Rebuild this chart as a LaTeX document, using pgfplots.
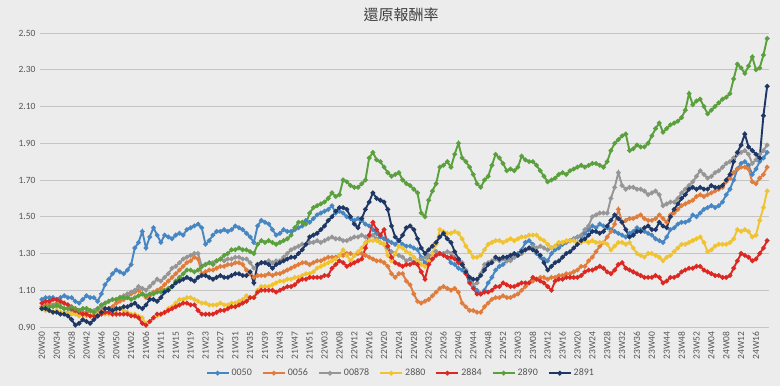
\documentclass[border=0pt]{standalone}
\usepackage{pgfplots}
\pgfplotsset{compat=1.18}
\usepackage{pgfplotstable}
\usepackage{fontspec}
\setmainfont{Carlito}
\newfontfamily\cjk{Noto Sans CJK TC}
\definecolor{bgcol}{RGB}{236,236,236}
\definecolor{gridc}{RGB}{196,196,196}
\definecolor{labc}{RGB}{85,85,85}
\definecolor{cA}{RGB}{70,135,195}
\definecolor{cB}{RGB}{225,125,60}
\definecolor{cC}{RGB}{150,150,150}
\definecolor{cD}{RGB}{240,195,50}
\definecolor{cE}{RGB}{220,40,35}
\definecolor{cF}{RGB}{90,160,60}
\definecolor{cG}{RGB}{30,55,100}

% 0050
\pgfplotstableread[row sep=\\]{
v\\
1.05\\1.06\\1.06\\1.06\\1.05\\1.06\\1.07\\1.06\\1.06\\1.04\\
1.03\\1.05\\1.07\\1.06\\1.06\\1.04\\1.08\\1.13\\1.16\\1.19\\
1.21\\1.20\\1.19\\1.21\\1.24\\1.33\\1.36\\1.42\\1.33\\1.39\\
1.44\\1.40\\1.36\\1.40\\1.39\\1.38\\1.40\\1.41\\1.40\\1.43\\
1.44\\1.45\\1.46\\1.44\\1.35\\1.37\\1.40\\1.42\\1.42\\1.43\\
1.42\\1.43\\1.45\\1.44\\1.43\\1.41\\1.39\\1.36\\1.45\\1.48\\
1.47\\1.46\\1.43\\1.40\\1.41\\1.43\\1.42\\1.42\\1.43\\1.44\\
1.45\\1.48\\1.47\\1.49\\1.51\\1.52\\1.53\\1.54\\1.56\\1.52\\
1.53\\1.52\\1.50\\1.49\\1.48\\1.49\\1.48\\1.46\\1.45\\1.43\\
1.41\\1.39\\1.38\\1.37\\1.36\\1.35\\1.37\\1.35\\1.34\\1.34\\
1.33\\1.32\\1.28\\1.25\\1.27\\1.30\\1.31\\1.30\\1.30\\1.28\\
1.25\\1.24\\1.22\\1.21\\1.19\\1.15\\1.12\\1.10\\1.08\\1.10\\
1.14\\1.17\\1.21\\1.23\\1.24\\1.26\\1.27\\1.28\\1.30\\1.32\\
1.36\\1.37\\1.35\\1.30\\1.28\\1.27\\1.26\\1.30\\1.32\\1.33\\
1.35\\1.36\\1.37\\1.38\\1.39\\1.39\\1.41\\1.43\\1.45\\1.44\\
1.46\\1.45\\1.44\\1.43\\1.42\\1.41\\1.40\\1.39\\1.41\\1.42\\
1.44\\1.43\\1.42\\1.41\\1.40\\1.38\\1.37\\1.36\\1.39\\1.43\\
1.44\\1.46\\1.47\\1.47\\1.48\\1.51\\1.50\\1.52\\1.54\\1.55\\
1.56\\1.55\\1.56\\1.58\\1.62\\1.65\\1.70\\1.76\\1.79\\1.80\\
1.78\\1.73\\1.76\\1.80\\1.82\\1.85\\
}\tA
% 0056
\pgfplotstableread[row sep=\\]{
v\\
1.01\\1.02\\1.03\\1.02\\1.03\\1.03\\1.03\\1.02\\1.01\\1.00\\
0.99\\0.98\\0.98\\0.99\\0.98\\0.98\\0.99\\1.00\\1.00\\1.01\\
1.03\\1.04\\1.05\\1.06\\1.08\\1.09\\1.10\\1.08\\1.06\\1.07\\
1.09\\1.10\\1.11\\1.13\\1.15\\1.17\\1.19\\1.21\\1.23\\1.25\\
1.26\\1.28\\1.27\\1.19\\1.20\\1.21\\1.21\\1.22\\1.23\\1.23\\
1.24\\1.24\\1.25\\1.25\\1.24\\1.21\\1.19\\1.17\\1.18\\1.18\\
1.18\\1.19\\1.18\\1.19\\1.19\\1.20\\1.21\\1.22\\1.23\\1.24\\
1.25\\1.25\\1.24\\1.25\\1.26\\1.26\\1.27\\1.28\\1.28\\1.28\\
1.29\\1.29\\1.30\\1.30\\1.29\\1.30\\1.30\\1.29\\1.28\\1.27\\
1.26\\1.26\\1.25\\1.23\\1.19\\1.17\\1.19\\1.19\\1.15\\1.13\\
1.08\\1.04\\1.03\\1.04\\1.05\\1.07\\1.09\\1.11\\1.12\\1.11\\
1.10\\1.11\\1.09\\1.03\\1.01\\0.99\\0.99\\0.98\\0.98\\1.01\\
1.03\\1.05\\1.06\\1.06\\1.07\\1.06\\1.06\\1.07\\1.08\\1.10\\
1.12\\1.14\\1.15\\1.16\\1.17\\1.17\\1.16\\1.17\\1.17\\1.18\\
1.18\\1.19\\1.19\\1.20\\1.21\\1.23\\1.23\\1.26\\1.28\\1.31\\
1.34\\1.36\\1.39\\1.42\\1.46\\1.54\\1.47\\1.48\\1.49\\1.49\\
1.50\\1.51\\1.49\\1.48\\1.48\\1.49\\1.51\\1.49\\1.47\\1.51\\
1.52\\1.54\\1.56\\1.57\\1.58\\1.59\\1.61\\1.62\\1.61\\1.62\\
1.63\\1.64\\1.65\\1.66\\1.69\\1.71\\1.74\\1.76\\1.77\\1.77\\
1.76\\1.69\\1.68\\1.71\\1.73\\1.77\\
}\tB
% 00878
\pgfplotstableread[row sep=\\]{
v\\
1.00\\1.01\\1.01\\1.02\\1.01\\1.01\\1.00\\1.00\\0.99\\0.98\\
0.99\\1.00\\1.00\\0.99\\0.99\\1.00\\1.01\\1.03\\1.04\\1.05\\
1.05\\1.06\\1.07\\1.08\\1.09\\1.10\\1.12\\1.11\\1.10\\1.12\\
1.14\\1.16\\1.15\\1.17\\1.19\\1.22\\1.23\\1.25\\1.27\\1.28\\
1.29\\1.30\\1.30\\1.23\\1.24\\1.25\\1.25\\1.26\\1.27\\1.26\\
1.27\\1.27\\1.28\\1.28\\1.27\\1.27\\1.25\\1.22\\1.24\\1.25\\
1.25\\1.26\\1.25\\1.26\\1.26\\1.28\\1.30\\1.32\\1.33\\1.34\\
1.35\\1.35\\1.36\\1.36\\1.37\\1.36\\1.37\\1.38\\1.39\\1.38\\
1.38\\1.37\\1.37\\1.38\\1.39\\1.39\\1.40\\1.39\\1.39\\1.40\\
1.38\\1.36\\1.35\\1.33\\1.31\\1.30\\1.29\\1.28\\1.26\\1.27\\
1.25\\1.26\\1.27\\1.28\\1.29\\1.30\\1.31\\1.30\\1.30\\1.31\\
1.30\\1.28\\1.27\\1.25\\1.21\\1.17\\1.13\\1.14\\1.19\\1.24\\
1.25\\1.26\\1.27\\1.26\\1.27\\1.26\\1.26\\1.28\\1.29\\1.30\\
1.32\\1.33\\1.34\\1.33\\1.34\\1.33\\1.32\\1.33\\1.34\\1.35\\
1.36\\1.36\\1.37\\1.38\\1.39\\1.40\\1.43\\1.45\\1.50\\1.51\\
1.52\\1.52\\1.52\\1.60\\1.66\\1.74\\1.67\\1.65\\1.66\\1.66\\
1.65\\1.65\\1.64\\1.62\\1.63\\1.64\\1.62\\1.56\\1.57\\1.58\\
1.58\\1.60\\1.63\\1.65\\1.67\\1.69\\1.72\\1.75\\1.73\\1.71\\
1.72\\1.74\\1.75\\1.77\\1.79\\1.80\\1.82\\1.84\\1.85\\1.86\\
1.84\\1.79\\1.81\\1.84\\1.86\\1.89\\
}\tC
% 2880
\pgfplotstableread[row sep=\\]{
v\\
1.00\\0.99\\0.99\\0.98\\0.99\\0.98\\0.98\\0.98\\0.97\\0.97\\
0.96\\0.97\\0.96\\0.96\\0.97\\0.97\\0.98\\0.97\\0.97\\0.98\\
0.99\\1.00\\0.99\\0.98\\0.97\\0.97\\0.96\\0.95\\0.92\\0.93\\
0.95\\0.96\\0.97\\0.98\\1.00\\1.01\\1.03\\1.05\\1.05\\1.06\\
1.06\\1.05\\1.04\\1.03\\1.03\\1.02\\1.02\\1.02\\1.03\\1.02\\
1.02\\1.03\\1.03\\1.04\\1.05\\1.07\\1.06\\1.06\\1.10\\1.12\\
1.12\\1.12\\1.13\\1.14\\1.15\\1.15\\1.16\\1.16\\1.17\\1.17\\
1.18\\1.19\\1.19\\1.20\\1.22\\1.23\\1.24\\1.25\\1.26\\1.27\\
1.29\\1.32\\1.29\\1.26\\1.29\\1.31\\1.33\\1.36\\1.37\\1.37\\
1.37\\1.36\\1.35\\1.29\\1.26\\1.30\\1.34\\1.33\\1.31\\1.30\\
1.28\\1.26\\1.24\\1.23\\1.26\\1.30\\1.35\\1.43\\1.42\\1.41\\
1.41\\1.42\\1.41\\1.38\\1.34\\1.31\\1.28\\1.28\\1.29\\1.32\\
1.35\\1.36\\1.37\\1.37\\1.36\\1.37\\1.38\\1.37\\1.38\\1.39\\
1.39\\1.40\\1.40\\1.40\\1.38\\1.37\\1.35\\1.33\\1.34\\1.36\\
1.36\\1.37\\1.37\\1.37\\1.36\\1.36\\1.37\\1.36\\1.37\\1.36\\
1.36\\1.36\\1.35\\1.32\\1.34\\1.36\\1.36\\1.35\\1.36\\1.33\\
1.30\\1.29\\1.28\\1.30\\1.30\\1.29\\1.28\\1.26\\1.28\\1.29\\
1.31\\1.33\\1.35\\1.35\\1.36\\1.37\\1.38\\1.39\\1.36\\1.31\\
1.32\\1.34\\1.35\\1.35\\1.35\\1.36\\1.38\\1.43\\1.42\\1.43\\
1.42\\1.39\\1.40\\1.48\\1.55\\1.64\\
}\tD
% 2884
\pgfplotstableread[row sep=\\]{
v\\
1.03\\1.04\\1.04\\1.05\\1.05\\1.04\\1.03\\1.02\\1.00\\0.99\\
0.98\\0.97\\0.97\\0.96\\0.96\\0.96\\0.97\\0.98\\0.98\\0.97\\
0.97\\0.97\\0.97\\0.97\\0.96\\0.96\\0.95\\0.92\\0.91\\0.93\\
0.95\\0.97\\0.97\\0.98\\0.99\\1.00\\1.01\\1.02\\1.03\\1.03\\
1.02\\1.02\\0.99\\0.97\\0.97\\0.97\\0.97\\0.98\\0.99\\0.99\\
1.00\\1.01\\1.01\\1.02\\1.03\\1.04\\1.06\\1.06\\1.09\\1.10\\
1.10\\1.10\\1.10\\1.09\\1.10\\1.11\\1.12\\1.12\\1.13\\1.15\\
1.16\\1.16\\1.17\\1.17\\1.17\\1.17\\1.18\\1.18\\1.22\\1.24\\
1.26\\1.25\\1.23\\1.24\\1.25\\1.26\\1.27\\1.33\\1.40\\1.47\\
1.43\\1.40\\1.43\\1.34\\1.28\\1.25\\1.24\\1.23\\1.24\\1.24\\
1.25\\1.24\\1.20\\1.16\\1.24\\1.27\\1.29\\1.30\\1.29\\1.28\\
1.28\\1.27\\1.25\\1.24\\1.19\\1.14\\1.11\\1.08\\1.08\\1.09\\
1.09\\1.10\\1.12\\1.12\\1.14\\1.13\\1.12\\1.12\\1.13\\1.14\\
1.14\\1.14\\1.17\\1.16\\1.15\\1.14\\1.12\\1.10\\1.15\\1.16\\
1.16\\1.17\\1.17\\1.17\\1.17\\1.18\\1.20\\1.21\\1.21\\1.22\\
1.23\\1.22\\1.20\\1.19\\1.21\\1.24\\1.25\\1.22\\1.21\\1.20\\
1.19\\1.18\\1.17\\1.17\\1.17\\1.18\\1.17\\1.14\\1.15\\1.17\\
1.17\\1.18\\1.20\\1.21\\1.22\\1.22\\1.23\\1.23\\1.21\\1.20\\
1.19\\1.18\\1.18\\1.17\\1.17\\1.18\\1.22\\1.26\\1.30\\1.29\\
1.28\\1.26\\1.27\\1.30\\1.33\\1.37\\
}\tE
% 2890
\pgfplotstableread[row sep=\\]{
v\\
1.00\\1.01\\1.01\\1.01\\1.02\\1.01\\1.00\\1.00\\1.01\\1.00\\
0.99\\1.00\\1.00\\0.99\\0.98\\1.00\\1.02\\1.03\\1.04\\1.05\\
1.05\\1.06\\1.06\\1.06\\1.05\\1.06\\1.07\\1.08\\1.07\\1.08\\
1.08\\1.09\\1.09\\1.10\\1.11\\1.12\\1.15\\1.17\\1.19\\1.21\\
1.21\\1.20\\1.21\\1.23\\1.24\\1.25\\1.24\\1.26\\1.27\\1.29\\
1.30\\1.32\\1.32\\1.33\\1.32\\1.32\\1.31\\1.30\\1.35\\1.37\\
1.36\\1.37\\1.36\\1.35\\1.36\\1.37\\1.38\\1.40\\1.44\\1.47\\
1.47\\1.46\\1.52\\1.55\\1.56\\1.57\\1.58\\1.60\\1.63\\1.61\\
1.62\\1.70\\1.69\\1.67\\1.66\\1.66\\1.68\\1.70\\1.82\\1.85\\
1.81\\1.80\\1.77\\1.74\\1.72\\1.73\\1.74\\1.70\\1.68\\1.67\\
1.65\\1.63\\1.52\\1.50\\1.59\\1.64\\1.68\\1.77\\1.78\\1.80\\
1.77\\1.84\\1.90\\1.82\\1.80\\1.77\\1.73\\1.68\\1.66\\1.70\\
1.72\\1.78\\1.84\\1.82\\1.79\\1.75\\1.76\\1.75\\1.77\\1.83\\
1.81\\1.80\\1.80\\1.78\\1.75\\1.72\\1.69\\1.70\\1.71\\1.73\\
1.74\\1.73\\1.75\\1.76\\1.77\\1.78\\1.77\\1.78\\1.79\\1.79\\
1.78\\1.77\\1.80\\1.86\\1.90\\1.92\\1.94\\1.95\\1.86\\1.87\\
1.89\\1.88\\1.88\\1.90\\1.94\\1.98\\2.01\\1.96\\1.98\\2.00\\
2.01\\2.02\\2.04\\2.08\\2.17\\2.11\\2.13\\2.14\\2.10\\2.06\\
2.08\\2.10\\2.12\\2.14\\2.15\\2.17\\2.25\\2.33\\2.31\\2.28\\
2.32\\2.37\\2.30\\2.31\\2.38\\2.47\\
}\tF
% 2891
\pgfplotstableread[row sep=\\]{
v\\
1.00\\1.00\\0.99\\0.98\\0.98\\0.97\\0.97\\0.96\\0.94\\0.91\\
0.92\\0.94\\0.93\\0.92\\0.94\\0.96\\0.98\\1.00\\1.00\\0.99\\
1.00\\1.00\\1.01\\1.01\\1.02\\1.03\\1.01\\1.00\\1.02\\1.05\\
1.05\\1.04\\1.06\\1.09\\1.10\\1.12\\1.14\\1.15\\1.16\\1.17\\
1.16\\1.15\\1.17\\1.18\\1.18\\1.17\\1.16\\1.17\\1.18\\1.17\\
1.17\\1.18\\1.19\\1.19\\1.18\\1.18\\1.20\\1.14\\1.24\\1.25\\
1.25\\1.24\\1.22\\1.24\\1.25\\1.26\\1.27\\1.28\\1.28\\1.30\\
1.32\\1.35\\1.39\\1.40\\1.41\\1.43\\1.45\\1.48\\1.50\\1.53\\
1.55\\1.55\\1.54\\1.50\\1.46\\1.44\\1.49\\1.54\\1.58\\1.63\\
1.60\\1.59\\1.58\\1.54\\1.45\\1.39\\1.37\\1.40\\1.44\\1.45\\
1.43\\1.38\\1.33\\1.30\\1.32\\1.34\\1.36\\1.39\\1.41\\1.38\\
1.36\\1.31\\1.27\\1.24\\1.20\\1.17\\1.16\\1.16\\1.18\\1.21\\
1.24\\1.25\\1.28\\1.27\\1.28\\1.28\\1.29\\1.30\\1.29\\1.31\\
1.32\\1.33\\1.32\\1.31\\1.29\\1.25\\1.21\\1.23\\1.25\\1.26\\
1.28\\1.30\\1.31\\1.33\\1.35\\1.37\\1.38\\1.40\\1.42\\1.42\\
1.41\\1.42\\1.45\\1.48\\1.51\\1.49\\1.47\\1.43\\1.39\\1.40\\
1.42\\1.42\\1.44\\1.45\\1.43\\1.43\\1.47\\1.45\\1.44\\1.50\\
1.54\\1.57\\1.60\\1.62\\1.65\\1.66\\1.65\\1.66\\1.65\\1.65\\
1.67\\1.66\\1.66\\1.67\\1.70\\1.73\\1.80\\1.85\\1.89\\1.95\\
1.88\\1.86\\1.84\\1.82\\2.05\\2.21\\
}\tG

\begin{document}
\begin{tikzpicture}
\useasboundingbox (0,0) rectangle (780pt,386pt);
\fill[bgcol] (0,0) rectangle (780pt,386pt);
\node[font=\cjk\fontsize{15}{17}\selectfont, text=black!75] at (401pt,371pt) {還原報酬率};
\begin{axis}[
  at={(40pt,59pt)}, anchor=south west,
  width=729pt, height=294pt, scale only axis,
  xmin=-0.5, xmax=195.5, ymin=0.9, ymax=2.5,
  ytick={0.9,1.1,1.3,1.5,1.7,1.9,2.1,2.3,2.5},
  yticklabels={0.90,1.10,1.30,1.50,1.70,1.90,2.10,2.30,2.50},
  xtick={0,4,...,192},
  xticklabels={20W30,20W34,20W38,20W42,20W46,20W50,21W02,21W06,21W11,21W15,21W19,21W23,21W27,21W31,21W35,21W39,21W43,21W47,21W51,22W03,22W08,22W12,22W16,22W20,22W24,22W28,22W32,22W36,22W40,22W44,22W48,22W52,23W03,23W08,23W12,23W16,23W20,23W24,23W28,23W32,23W36,23W40,23W44,23W48,23W52,24W04,24W08,24W12,24W16},
  x tick label style={rotate=90, anchor=east, font=\fontsize{9.5}{10}\selectfont, text=labc},
  y tick label style={font=\fontsize{9.5}{10}\selectfont, text=labc},
  xticklabel shift=1pt,
  yticklabel shift=1pt,
  tick style={draw=none},
  ymajorgrids, grid style={gridc, line width=0.7pt},
  axis x line*=bottom, axis y line*=left,
  x axis line style={gridc, line width=0.7pt, -},
  y axis line style={draw=none},
  clip=false,
  every axis plot/.append style={line width=1.9pt, mark=*, mark size=1.3pt},
  legend columns=7,
  legend style={at={(0.495,-0.157)}, anchor=center, draw=none, fill=none,
    font=\fontsize{10}{11}\selectfont, text=labc,
    /tikz/every even column/.append style={column sep=8pt}},
  legend image code/.code={\draw[mark repeat=2,mark phase=2,#1] plot coordinates {(0pt,0pt) (11pt,0pt) (22pt,0pt)};},
]
\addplot[cA] table[x expr=\coordindex, y=v] {\tA};
\addlegendentry{0050}
\addplot[cB] table[x expr=\coordindex, y=v] {\tB};
\addlegendentry{0056}
\addplot[cC] table[x expr=\coordindex, y=v] {\tC};
\addlegendentry{00878}
\addplot[cD] table[x expr=\coordindex, y=v] {\tD};
\addlegendentry{2880}
\addplot[cE] table[x expr=\coordindex, y=v] {\tE};
\addlegendentry{2884}
\addplot[cF] table[x expr=\coordindex, y=v] {\tF};
\addlegendentry{2890}
\addplot[cG] table[x expr=\coordindex, y=v] {\tG};
\addlegendentry{2891}
\end{axis}
\end{tikzpicture}
\end{document}
